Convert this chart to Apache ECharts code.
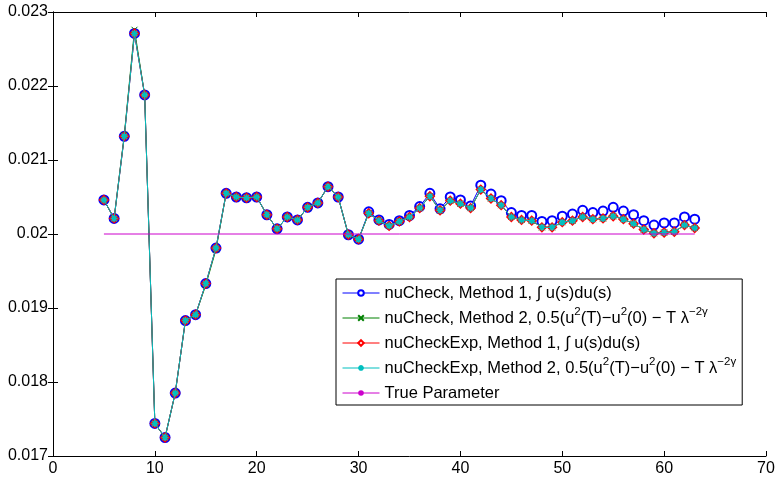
<!DOCTYPE html>
<html><head><meta charset="utf-8">
<script src="https://cdn.jsdelivr.net/npm/echarts@6/dist/echarts.min.js"></script>
<style>html,body{margin:0;padding:0;background:#fff}#c{width:778px;height:477px}</style>
</head><body><div id="c"></div>
<script>
const xs = [5,6,7,8,9,10,11,12,13,14,15,16,17,18,19,20,21,22,23,24,25,26,27,28,29,30,31,32,33,34,35,36,37,38,39,40,41,42,43,44,45,46,47,48,49,50,51,52,53,54,55,56,57,58,59,60,61,62,63];
const nuCheckM1 = [0.02046,0.02021,0.02132,0.02271,0.02188,0.01744,0.01725,0.01785,0.01883,0.01891,0.01933,0.01981,0.02055,0.02050,0.02049,0.02050,0.02026,0.02007,0.02023,0.02019,0.02036,0.02042,0.02064,0.02050,0.01999,0.01993,
  0.02030,0.02019,0.02013,0.02018,0.02025,0.02037,0.02055,0.02034,0.02050,0.02046,0.02038,0.02066,0.02054,0.02045,0.02029,0.02025,0.02025,0.02017,0.02018,0.02024,0.02027,0.02032,0.02029,0.02031,0.02036,0.02031,0.02026,0.02018,0.02012,0.02015,0.02015,0.02023,0.02020];
const nuCheckM2 = [0.02046,0.02021,0.02134,0.02276,0.02188,0.01744,0.01725,0.01785,0.01883,0.01891,0.01931,0.01979,0.02055,0.02050,0.02049,0.02050,0.02026,0.02007,0.02023,0.02019,0.02036,0.02042,0.02064,0.02050,0.01999,0.01993,
  0.02028,0.02018,0.02011,0.02017,0.02023,0.02035,0.02051,0.02032,0.02045,0.02041,0.02035,0.02060,0.02048,0.02039,0.02023,0.02019,0.02018,0.02009,0.02009,0.02016,0.02018,0.02023,0.02020,0.02021,0.02024,0.02020,0.02014,0.02006,0.02001,0.02002,0.02003,0.02012,0.02008];
const nuCheckExpM1 = [0.02046,0.02021,0.02132,0.02271,0.02188,0.01744,0.01725,0.01785,0.01883,0.01891,0.01933,0.01981,0.02055,0.02050,0.02049,0.02050,0.02026,0.02007,0.02023,0.02019,0.02036,0.02042,0.02064,0.02050,0.01999,0.01993,
  0.02028,0.02018,0.02011,0.02017,0.02023,0.02035,0.02051,0.02032,0.02045,0.02041,0.02035,0.02060,0.02048,0.02039,0.02023,0.02019,0.02018,0.02009,0.02009,0.02016,0.02018,0.02023,0.02020,0.02021,0.02024,0.02020,0.02014,0.02006,0.02001,0.02002,0.02003,0.02012,0.02008];
const nuCheckExpM2 = [0.02046,0.02021,0.02132,0.02271,0.02188,0.01744,0.01725,0.01785,0.01883,0.01891,0.01933,0.01981,0.02055,0.02050,0.02049,0.02050,0.02026,0.02007,0.02023,0.02019,0.02036,0.02042,0.02064,0.02050,0.01999,0.01993,
  0.02028,0.02018,0.02011,0.02017,0.02023,0.02035,0.02051,0.02032,0.02045,0.02041,0.02035,0.02060,0.02048,0.02039,0.02023,0.02019,0.02018,0.02009,0.02009,0.02016,0.02018,0.02023,0.02020,0.02021,0.02024,0.02020,0.02014,0.02006,0.02001,0.02002,0.02003,0.02012,0.02008];
const trueX = [5, 63];
const trueValue = 0.02;
const seriesNames = [
  'nuCheck, Method 1, ∫ u(s)du(s)',
  'nuCheck, Method 2, 0.5(u2(T)−u2(0) − T λ−2γ',
  'nuCheckExp, Method 1, ∫ u(s)du(s) ',
  'nuCheckExp, Method 2, 0.5(u2(T)−u2(0) − T λ−2γ',
  'True Parameter'
];
const legendLabels = [
  '{n|nuCheck, Method 1, ∫ u(s)du(s)}',
  '{n|nuCheck, Method 2, 0.5(u}{s|2}{n|(T)−u}{s|2}{n|(0) − T λ}{s|−2γ}',
  '{n|nuCheckExp, Method 1, ∫ u(s)du(s)}',
  '{n|nuCheckExp, Method 2, 0.5(u}{s|2}{n|(T)−u}{s|2}{n|(0) − T λ}{s|−2γ}',
  '{n|True Parameter}'
];
const xTicks = {min: 0, max: 70, interval: 10};
const yTicks = {min: 0.017, max: 0.023, interval: 0.001};

const FONT = 'Liberation Sans';
const pair = arr => xs.map((x, i) => [x, arr[i]]);
const xSym = 'path://M0,0L10,10M10,0L0,10';
const aSym = 'path://M5,0L5,10M0,5L10,5M1.5,1.5L8.5,8.5M8.5,1.5L1.5,8.5';
const fmtY = v => { let s = (Math.round(v * 1000) / 1000).toFixed(3); s = s.replace(/0+$/, ''); return s; };
const axCommon = {
  axisLine: {show: true, lineStyle: {color: '#000', width: 1}},
  axisTick: {show: true, inside: true, length: 5, lineStyle: {color: '#000'}},
  splitLine: {show: false}
};
const chart = echarts.init(document.getElementById('c'), null, {renderer: 'canvas'});
chart.setOption({
  animation: false,
  backgroundColor: '#fff',
  grid: {left: 53, right: 12, top: 12, bottom: 21, containLabel: false},
  xAxis: [
    Object.assign({type: 'value', position: 'bottom', min: xTicks.min, max: xTicks.max, interval: xTicks.interval,
      axisLabel: {color: '#000', fontSize: 16, fontFamily: FONT, margin: 5}}, axCommon),
    Object.assign({type: 'value', position: 'top', min: xTicks.min, max: xTicks.max, interval: xTicks.interval,
      axisLabel: {show: false}}, axCommon)
  ],
  yAxis: [
    Object.assign({type: 'value', position: 'left', min: yTicks.min, max: yTicks.max, interval: yTicks.interval,
      axisLabel: {color: '#000', fontSize: 16, fontFamily: FONT, margin: 5, formatter: fmtY}}, axCommon),
    Object.assign({type: 'value', position: 'right', min: yTicks.min, max: yTicks.max, interval: yTicks.interval,
      axisLabel: {show: false}}, axCommon)
  ],
  legend: {
    orient: 'vertical', left: 336, top: 279,
    data: seriesNames,
    formatter: name => legendLabels[seriesNames.indexOf(name)],
    backgroundColor: '#fff', borderColor: '#000', borderWidth: 1,
    padding: [2, 6, 0, 6], itemWidth: 37, itemHeight: 7, itemGap: 1,
    lineStyle: {width: 1},
    textStyle: {fontFamily: FONT, fontSize: 16.5, color: '#000', lineHeight: 24,
      rich: {n: {fontFamily: FONT, fontSize: 16.5, color: '#000', lineHeight: 24},
             s: {fontFamily: FONT, fontSize: 11.5, color: '#000', lineHeight: 20, verticalAlign: 'top'}}}
  },
  series: [
    {name: seriesNames[0], type: 'line', data: pair(nuCheckM1), symbol: 'emptyCircle', symbolSize: 9,
      lineStyle: {color: '#0000ff', width: 1}, itemStyle: {color: '#0000ff', borderColor: '#0000ff', borderWidth: 1}, z: 2},
    {name: seriesNames[1], type: 'line', data: pair(nuCheckM2), symbol: xSym, symbolSize: 6,
      lineStyle: {color: '#008000', width: 1}, itemStyle: {color: '#008000', borderColor: '#008000', borderWidth: 1}, z: 3},
    {name: seriesNames[2], type: 'line', data: pair(nuCheckExpM1), symbol: 'emptyDiamond', symbolSize: 8,
      lineStyle: {color: '#ff0000', width: 1}, itemStyle: {color: '#ff0000', borderColor: '#ff0000', borderWidth: 1}, z: 4},
    {name: seriesNames[3], type: 'line', data: pair(nuCheckExpM2), symbol: aSym, symbolSize: 7,
      lineStyle: {color: '#00bfbf', width: 1}, itemStyle: {color: '#00bfbf', borderColor: '#00bfbf', borderWidth: 1.5}, z: 5},
    {name: seriesNames[4], type: 'line', data: trueX.map(x => [x, trueValue]), symbol: 'none',
      lineStyle: {color: '#cc00cc', width: 1}, itemStyle: {color: '#cc00cc'}, z: 6}
  ]
});
</script></body></html>
